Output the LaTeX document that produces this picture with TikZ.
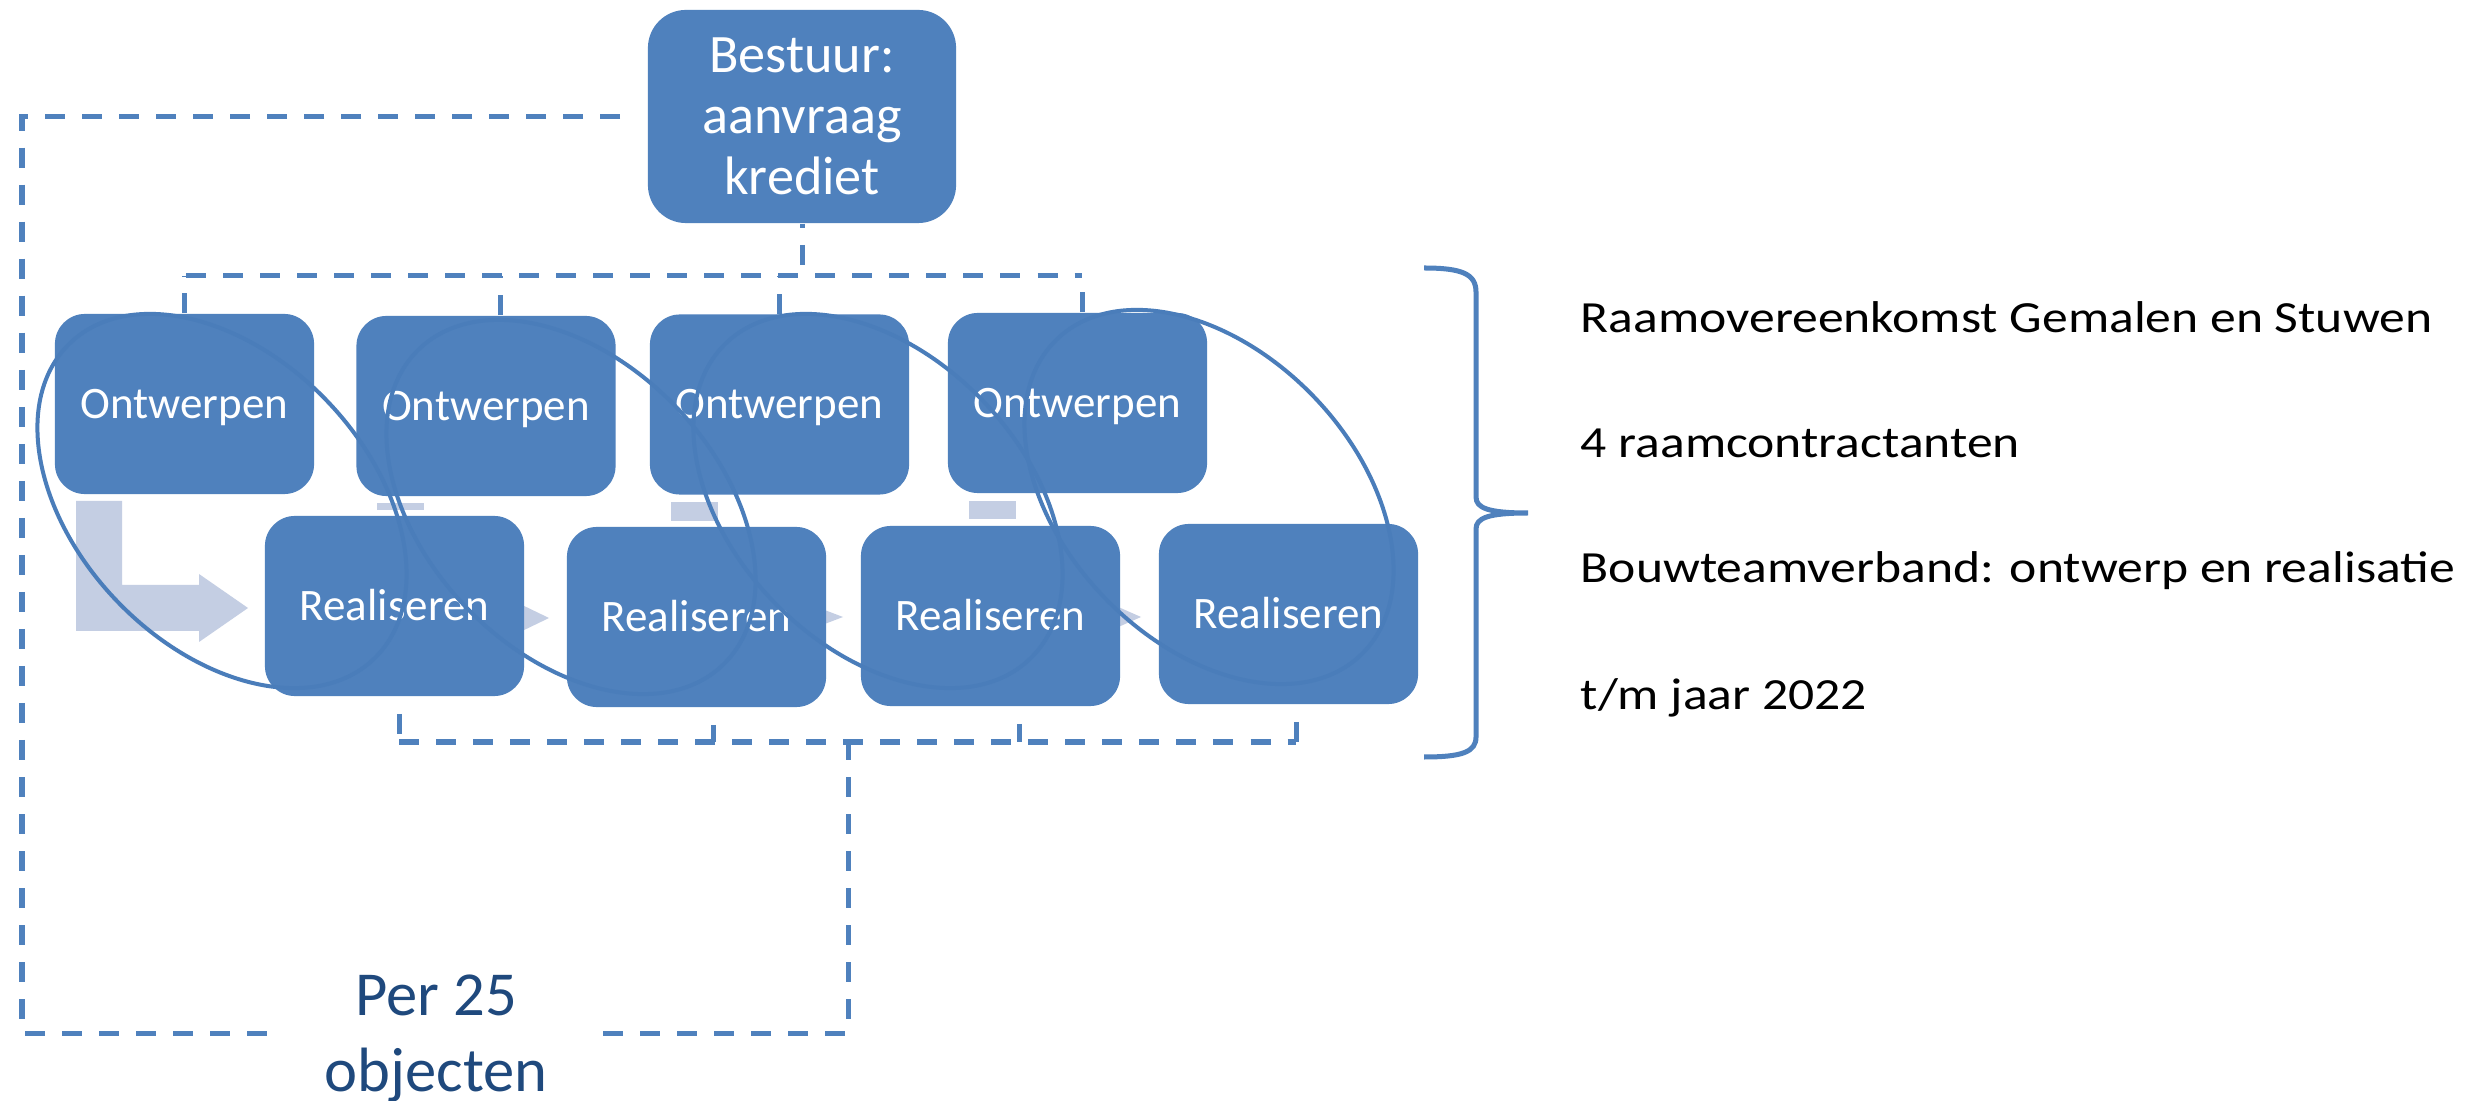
\documentclass[tikz,border=0pt]{standalone}
\usepackage{fontspec}
\setmainfont{Carlito}
\newfontfamily\widefont[FakeStretch=1.16]{Carlito}
\usetikzlibrary{shapes.geometric,calc}

\definecolor{boxblue}{RGB}{79,129,189}
\definecolor{ringblue}{RGB}{74,125,186}
\definecolor{arrowgrey}{RGB}{196,206,227}
\definecolor{darkblue}{RGB}{31,73,125}

\begin{document}
\begin{tikzpicture}[x=0.01cm, y=-0.01cm,
  stage/.style={fill=boxblue, rounded corners=0.3cm, minimum width=2.59cm,
    minimum height=1.8cm, inner sep=0pt, text=white, text height=0.28cm, text depth=0cm,
    font=\fontsize{12.8pt}{15pt}\selectfont},
  board/.style={fill=boxblue, rounded corners=0.38cm, minimum width=3.08cm,
    minimum height=2.13cm, inner sep=0pt, text=white, align=center,
    font=\fontsize{15.4pt}{17.4pt}\selectfont},
  ring/.style={draw=ringblue, line width=0.04cm, ellipse, minimum width=4.38cm,
    minimum height=2.9cm, inner sep=0pt},
  dashline/.style={draw=boxblue, line width=0.05cm, dash pattern=on 0.2cm off 0.17cm},
  bracket/.style={draw=boxblue, line width=0.05cm},
  note/.style={anchor=base west, inner sep=0pt, font=\widefont\fontsize{12.66pt}{15pt}\selectfont},
  grouplabel/.style={anchor=base, inner sep=0pt, text=darkblue,
    font=\fontsize{17.8pt}{21.9pt}\selectfont}]

\useasboundingbox[fill=white] (0,0) rectangle (2489,1101);

% light process arrows behind the stages
\fill[arrowgrey] (76,501) -- (122,501) -- (122,585) -- (199,585) -- (199,574)
  -- (248,608) -- (199,642) -- (199,631) -- (76,631) -- cycle;
\fill[arrowgrey] (377,503) rectangle (424,510);
\fill[arrowgrey] (671,502) rectangle (718,521);
\fill[arrowgrey] (969,501) rectangle (1016,519);
\fill[arrowgrey] (520,604) -- (549,618) -- (520,632) -- cycle;
\fill[arrowgrey] (822,609) -- (843,617) -- (822,625) -- cycle;
\fill[arrowgrey] (1116,606) -- (1141,617) -- (1116,628) -- cycle;

% stages
\node[board] (B) at (802,116.5) {Bestuur:\\aanvraag\\krediet};
\node[stage] (O1) at (184.5,404) {Ontwerpen};
\node[stage] (O2) at (486,406) {Ontwerpen};
\node[stage] (O3) at (779.5,404.5) {Ontwerpen};
\node[stage] (O4) at (1077.5,403) {Ontwerpen};
\node[stage] (R1) at (394.5,606) {Realiseren};
\node[stage] (R2) at (696.5,617) {Realiseren};
\node[stage] (R3) at (990.5,616) {Realiseren};
\node[stage] (R4) at (1288.5,614) {Realiseren};

% upper bus from the board to the design stages
\coordinate (tbL) at (186,276);
\coordinate (tbR) at (1082,276);
\draw[dashline] (tbL) -- (tbR);
\draw[dashline, dash phase=0.16cm] (B.south) -- (B.south |- tbL);
\draw[dashline] (O1.north) -- (O1.north |- tbL);
\draw[dashline] ($(O2.north)+(14,0)$) coordinate (o2t) -- (o2t |- tbL);
\draw[dashline] (O3.north) -- (O3.north |- tbL);
\draw[dashline] ($(O4.north)+(4.5,0)$) coordinate (o4t) -- (o4t |- tbL);

% lower bus under the realisation stages
\coordinate (bbL) at (399,742);
\coordinate (bbR) at (1296,742);
\draw[dashline] (bbL) -- (bbR);
\draw[dashline, dash phase=0.2cm] ($(R1.south)+(4.5,0)$) coordinate (r1t) -- (r1t |- bbL);
\draw[dashline, dash phase=0.2cm] ($(R2.south)+(16.5,0)$) coordinate (r2t) -- (r2t |- bbL);
\draw[dashline, dash phase=0.2cm] ($(R3.south)+(28.5,0)$) coordinate (r3t) -- (r3t |- bbL);
\draw[dashline, dash phase=0.2cm] ($(R4.south)+(7.5,0)$) coordinate (r4t) -- (r4t |- bbL);

% frame around everything for one batch of objects
\coordinate (FBL) at (22,1033);
\coordinate (FBR) at (848,1033);
\coordinate (gapL) at (280,1033);
\coordinate (gapR) at (603,1033);
\draw[dashline] ($(B.west)+(-27,0)$) -- (B.west -| FBL) -- (FBL) -- (gapL);
\draw[dashline] (gapR) -- (FBR) -- (FBR |- bbL);
\node[grouplabel] (P1) at (436,1015) {Per 25};
\node[grouplabel] (P2) at (436,1091) {objecten};

% one ring per contractor: design plus realisation
\node[ring, rotate=-46] (E1) at (222,501) {};
\node[ring, rotate=-46] (E2) at (571,507) {};
\node[ring, rotate=-46] (E3) at (878,501) {};
\node[ring, rotate=-46] (E4) at (1209,497) {};

% brace and framework notes
\draw[bracket] (1424,268) .. controls (1462,268) and (1476,274) .. (1476,292)
  -- (1476,497) .. controls (1476,508) and (1488,513) .. (1528,513)
  .. controls (1488,513) and (1476,518) .. (1476,529)
  -- (1476,737) .. controls (1476,752) and (1462,757) .. (1424,757);
\node[note] (T1) at (1580,333) {Raamovereenkomst Gemalen en Stuwen};
\node[note] (T2) at (1580,458) {4 raamcontractanten};
\node[note] (T3) at (1580,583) {Bouwteamverband: ontwerp en realisatie};
\node[note] (T4) at (1580,709) {t/m jaar 2022};

\end{tikzpicture}
\end{document}
